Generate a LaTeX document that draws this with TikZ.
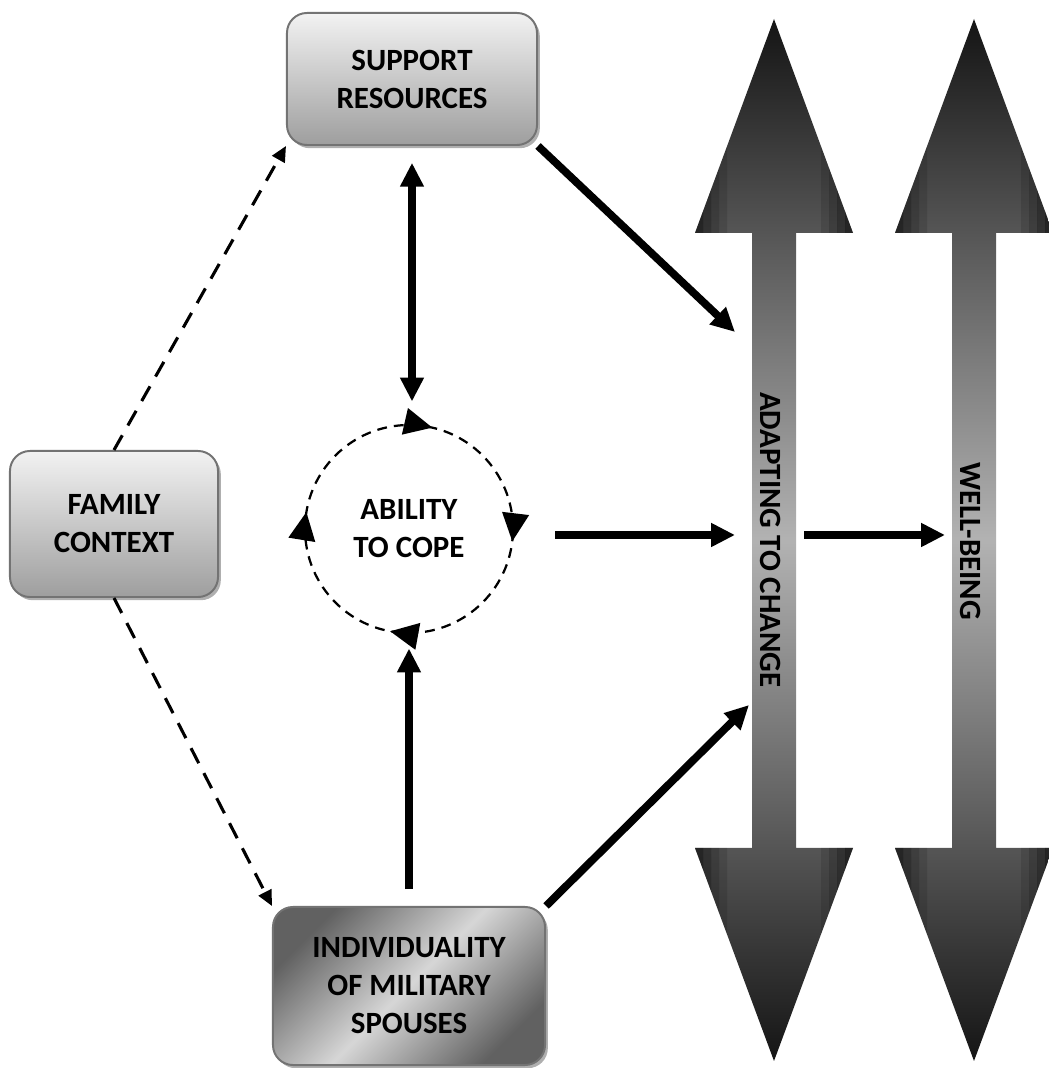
\documentclass[tikz,border=0pt]{standalone}
\usepackage{fontspec}
\setmainfont{Carlito}
\usetikzlibrary{arrows.meta}
\usetikzlibrary{shadows}
\usetikzlibrary{decorations.markings}

\begin{document}
\begin{tikzpicture}[x=0.025cm,y=0.025cm,
  roundbox/.style={rectangle,rounded corners=0.5cm,draw=black!55,line width=1.4pt,
    align=center,font=\fontsize{22}{27}\selectfont\bfseries,
    drop shadow={shadow xshift=0.07cm,shadow yshift=-0.08cm,fill=black!35,opacity=0.9}},
  lightbox/.style={roundbox,top color=black!5,bottom color=black!38},
  darkbox/.style={roundbox,left color=black!62,right color=black!62,middle color=black!16,shading angle=45},
  bigarrow/.style={top color=black!92,bottom color=black!92,middle color=black!30},
  arrowtext/.style={rotate=-90,font=\fontsize{22}{27}\selectfont\bfseries},
  solidarrow/.style={line width=5.5pt,-{Triangle[length=17pt,width=16pt]}},
  solidboth/.style={line width=5.5pt,{Triangle[length=17pt,width=16pt]}-{Triangle[length=17pt,width=16pt]}},
  dashedarrow/.style={line width=2.2pt,dash pattern=on 12pt off 8pt,-{Triangle[length=11pt,width=10pt]}},
  copering/.style={line width=1.6pt,dash pattern=on 7pt off 5pt,postaction={decorate},
    decoration={markings,
      mark=at position 0.214 with {\arrowreversed{Triangle[length=20pt,width=19pt]}},
      mark=at position 0.474 with {\arrowreversed{Triangle[length=20pt,width=19pt]}},
      mark=at position 0.721 with {\arrowreversed{Triangle[length=20pt,width=19pt]}},
      mark=at position 0.981 with {\arrowreversed{Triangle[length=20pt,width=19pt]}}}}]
\useasboundingbox (0,0) rectangle (1049,1068);

% the two big double arrows
\foreach \cx in {774,974} {
  \shade[bigarrow] (\cx,1049) -- (\cx+79,835) -- (\cx+22,835) -- (\cx+22,220)
    -- (\cx+79,220) -- (\cx,7) -- (\cx-79,220) -- (\cx-22,220) -- (\cx-22,835)
    -- (\cx-79,835) -- cycle;
  % darker bands at the sides of the heads
  \begin{scope}
    \clip (\cx,1049) -- (\cx+79,835) -- (\cx-79,835) -- cycle;
    \foreach \i/\op in {0/0.55,1/0.4,2/0.25,3/0.12}
      \fill[black,opacity=\op] (\cx-79+8*\i,835) rectangle ++(8,90)
        (\cx+71-8*\i,835) rectangle ++(8,90);
  \end{scope}
  \begin{scope}
    \clip (\cx,7) -- (\cx+79,220) -- (\cx-79,220) -- cycle;
    \foreach \i/\op in {0/0.55,1/0.4,2/0.25,3/0.12}
      \fill[black,opacity=\op] (\cx-79+8*\i,220) rectangle ++(8,-90)
        (\cx+71-8*\i,220) rectangle ++(8,-90);
  \end{scope}
}
\node[arrowtext] (adapt) at (771,528) {ADAPTING TO CHANGE};
\node[arrowtext] (well) at (971,527) {WELL-BEING};
\coordinate (adaptin1) at (735,736);
\coordinate (adaptin2) at (735,533);
\coordinate (adaptin3) at (749,363);
\coordinate (adaptout) at (804,533);
\coordinate (wellin) at (945,533);

% boxes
\node[lightbox,minimum width=6.25cm,minimum height=3.3cm] (sup) at (412,989) {SUPPORT\\RESOURCES};
\node[lightbox,minimum width=5.2cm,minimum height=3.65cm] (fam) at (114,544) {FAMILY\\CONTEXT};
\node[darkbox,minimum width=6.8cm,minimum height=3.95cm] (indiv) at (409,82) {INDIVIDUALITY\\OF MILITARY\\SPOUSES};

% ability to cope
\node[circle,minimum size=5.2cm,align=center,font=\fontsize{22}{27}\selectfont\bfseries] (cope) at (409,539) {ABILITY\\TO COPE};
\draw[copering] (cope.center) circle[radius=104];

% connectors
\draw[dashedarrow] (fam.north) -- (sup.south west);
\draw[dashedarrow] (fam.south) -- (indiv.north west);
\draw[solidboth,shorten <=0.42cm,shorten >=0.58cm] (sup.south) -- (sup.south |- cope.north);
\draw[solidarrow,shorten <=0.42cm,shorten >=0.38cm] (indiv.north) -- (indiv.north |- cope.south);
\draw[solidarrow] (sup.south east) -- (adaptin1);
\draw[solidarrow,shorten <=1.05cm] (cope.east |- adaptin2) -- (adaptin2);
\draw[solidarrow] (indiv.north east) -- (adaptin3);
\draw[solidarrow] (adaptout) -- (wellin);
\end{tikzpicture}
\end{document}
